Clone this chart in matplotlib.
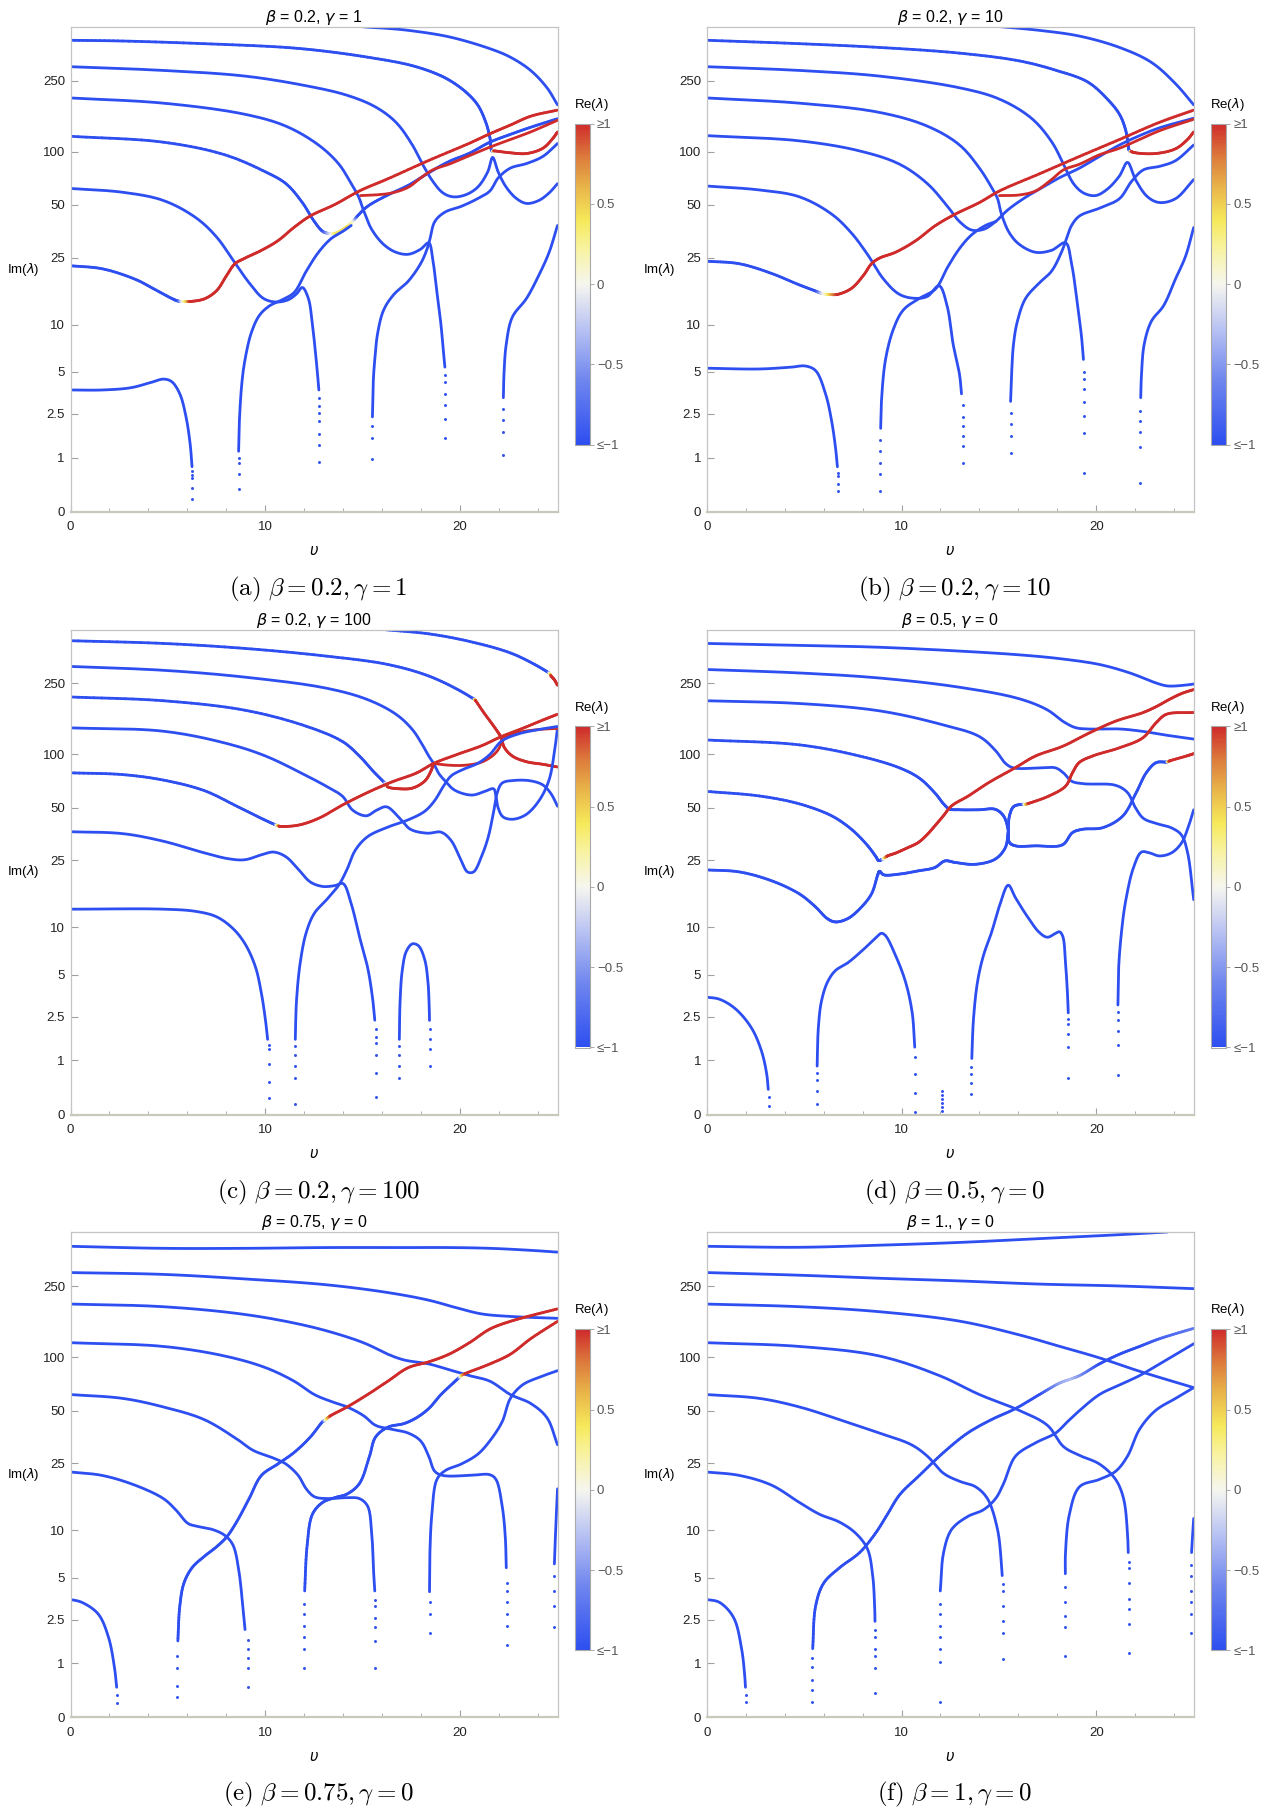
import numpy as np
import matplotlib
matplotlib.use("Agg")
import matplotlib.pyplot as plt
from matplotlib.collections import LineCollection
from matplotlib.colors import LinearSegmentedColormap, Normalize
import matplotlib.colorbar as mcolorbar

plt.rcParams['font.family'] = ['Liberation Sans', 'DejaVu Sans']

# ---------------- data: curves as (u, Im(lambda), Re(lambda)) ----------------
# panel (a) beta=0.2, gamma=1
a_c0 = [(14.6,505,-1),(15.25,497,-1),(16.3,489,-1),(17.34,477,-1),(19.43,439,-1),(21.53,377,-1),(22.58,338,-1),(23.62,285,-1),(24.46,228,-1),(25.0,183,-1)]
a_c1 = [(0,420,-1),(2.68,416,-1),(6.87,402,-1),(11.06,383,-1),(13.15,364,-1),(15.25,338,-1),(17.34,307,-1),(18.6,278,-1),(19.43,252,-1),(20.27,217,-1),(20.9,183,-1),(21.32,146,-1),(21.53,120,-1),(21.63,101,-1),(21.74,101,1),(22.58,98.5,1),(23.41,97.6,1),(24.25,104.5,1),(24.77,119,1),(25.0,129,1)]
a_c2 = [(0,299,-1),(4.77,285,-1),(8.96,265,-1),(12.1,234,-1),(14.2,207,-1),(15.66,178,-1),(16.71,146,-1),(17.55,109,-1),(18.07,85,-1),(18.6,68,-1),(19.12,58.5,-1),(19.64,55.6,-1),(20.27,57,-1),(20.9,63,-1),(21.42,77,-1),(21.67,92.8,-1),(21.95,77,-1),(22.37,63,-1),(22.9,54.3,-1),(23.41,51,-1),(24.04,53,-1),(24.57,58.5,-1),(25.0,66,-1)]
a_c3 = [(0,200,-1),(4.77,187,-1),(8.96,162,-1),(11.06,139,-1),(12.73,109,-1),(13.78,85,-1),(14.41,66,-1),(14.79,55.6,-1),(15.04,46.7,-1),(15.46,36.3,-1),(16.08,29.7,-1),(16.71,26.8,-1),(17.34,26.1,-1),(17.97,27.9,-1),(18.39,30.4,-1),(18.6,24.2,-1),(18.8,16,-1),(19.02,9.95,-1),(19.14,6.77,-1),(19.22,5.38,-1)]
a_c4 = [(0,122,-1),(4.77,113,-1),(7.92,96,-1),(10.0,77,-1),(11.06,66,-1),(11.9,51.6,-1),(12.52,40.2,-1),(12.94,35.4,-1),(13.25,34.4,-0.3),(13.6,34.5,0.4),(14.2,37.7,0.45),(14.5,40.5,0.1),(14.75,43.5,-1),(15.25,49.1,-1),(16.3,57,-1),(17.34,64.6,-1),(18.39,76,-1),(19.43,88,-1),(20.48,98,-1),(21.53,113,-1),(22.58,125,-1),(23.62,137,-1),(25.0,153,-1)]
a_red2 = [(14.89,56.5,1),(15.66,57,1),(16.5,58.5,1),(17.34,63,1),(17.97,71,1),(18.6,79,1),(19.43,85,1),(20.48,95,1),(21.53,106,1),(22.58,117,1),(23.62,129,1),(25.0,150,1)]
a_c5 = [(0,62,-1),(2.68,59,-1),(4.77,53,-1),(6.45,42.2,-1),(7.5,32.8,-1),(8.34,24.2,-1),(9.17,17.8,-1),(9.9,14.4,-1),(10.53,13.7,-1),(11.16,14.1,-1),(11.6,15.3,-1),(11.9,16.7,-1),(12.21,14.4,-1),(12.42,9.95,-1),(12.63,5.7,-1),(12.75,3.76,-1)]
a_r1 = [(8.63,1.17,-1),(8.67,2.21,-1),(8.8,4.25,-1),(8.96,6.04,-1),(9.28,8.9,-1),(9.7,11.4,-1),(10.22,13,-1),(10.85,14.1,-1),(11.48,15.6,-1),(12.1,20.8,-1),(12.73,26.8,-1),(13.36,32,-1),(13.99,35.4,-1),(14.41,38.2,-1)]
a_c6 = [(0,22.4,-1),(1.63,21.5,-1),(3.31,18.7,-1),(4.36,16.2,-1),(5.19,14.4,-1),(5.5,13.9,-1),(5.72,13.8,-0.1),(5.93,13.8,0.45),(6.14,13.8,1),(6.87,14.3,1),(7.5,16,1),(8.02,19.7,1),(8.44,23,1),(8.96,24.8,1),(9.8,27.5,1),(10.64,31.2,1),(11.48,37.3,1),(12.31,43.3,1),(13.57,50.3,1),(14.83,60,1),(16.29,70.3,1),(18.39,89.2,1),(20.48,111.5,1),(21.53,126,1),(22.58,141,1),(23.62,158,1),(25.0,171,1)]
a_r2 = [(15.5,2.37,-1),(15.54,4.25,-1),(15.62,6.04,-1),(15.77,8.9,-1),(16.08,12.3,-1),(16.6,15.2,-1),(17.34,18.2,-1),(17.97,23,-1),(18.28,27.5,-1),(18.43,31.2,-1),(18.7,40.2,-1),(19.22,45.5,-1),(20.06,49.1,-1),(20.9,54.3,-1),(21.53,60,-1),(21.95,71,-1),(22.58,80.8,-1),(23.41,85.7,-1),(24.25,94,-1),(25.0,111,-1)]
a_r3 = [(22.22,3.31,-1),(22.26,5.07,-1),(22.37,7.57,-1),(22.68,11.1,-1),(23.41,14.4,-1),(24.04,19.7,-1),(24.57,26.8,-1),(25.0,38.2,-1)]
a_c7 = [(0,3.76,-1),(1.63,3.76,-1),(3.1,3.9,-1),(4.15,4.25,-1),(4.77,4.47,-1),(5.19,4.3,-1),(5.61,3.53,-1),(5.93,2.37,-1),(6.14,1.39,-1),(6.24,0.78,-1)]
a_dots = [(6.26,[0.68,0.6,0.54,0.36,0.18]),(8.63,[0.33,0.62,0.87,1.0]),(12.78,[3.3,2.9,2.55,2.2,1.70,1.36,0.89]),(15.5,[0.97,1.58,1.99]),(19.22,[4.8,4.25,3.53,2.91,2.30,1.58]),(22.22,[1.07,1.77,2.24,2.72])]

# panel (b) beta=0.2, gamma=10
b_c0 = [(14.8,505,-1),(15.03,501,-1),(17.08,477,-1),(19.14,443,-1),(21.19,383,-1),(22.83,316,-1),(24.07,240,-1),(25.0,183,-1)]
b_c1 = [(0,420,-1),(4.76,402,-1),(8.87,383,-1),(12.98,356,-1),(16.06,322,-1),(17.95,285,-1),(19.55,246,-1),(20.57,197,-1),(21.19,162,-1),(21.5,133,-1),(21.64,109,-1),(21.7,101,-1),(21.8,100,1),(22.01,98.5,1),(23.04,97.6,1),(24.07,103.8,1),(24.68,117,1),(25.0,129,1)]
b_c2 = [(0,299,-1),(4.76,285,-1),(8.87,265,-1),(12.98,228,-1),(15.03,197,-1),(16.67,154,-1),(17.7,114,-1),(18.32,85,-1),(18.83,66,-1),(19.34,58.5,-1),(19.96,56.5,-1),(20.57,61.5,-1),(21.19,73,-1),(21.6,87,-1),(22.01,69.6,-1),(22.63,55.6,-1),(23.24,51.6,-1),(24.07,54.3,-1),(25.0,69.6,-1)]
b_c3 = [(0,200,-1),(4.76,187,-1),(8.87,166,-1),(11.33,139,-1),(12.98,109,-1),(14.0,80.8,-1),(14.62,63,-1),(14.93,54.3,-1),(15.13,44.4,-1),(15.54,34.6,-1),(16.06,29.7,-1),(16.88,26.8,-1),(17.7,27.5,-1),(18.42,30.4,-1),(18.73,23,-1),(19.04,13,-1),(19.24,8.45,-1),(19.34,6.04,-1)]
b_c4 = [(0,123,-1),(4.76,115,-1),(7.84,101,-1),(9.9,85,-1),(11.33,66,-1),(12.36,49.1,-1),(12.98,40.2,-1),(13.59,36,-1),(14.21,36.3,-1),(14.83,40.2,-1),(15.44,46.7,-1),(16.26,54.3,-1),(17.08,61.5,-1),(18.11,71.3,-1),(19.14,80.8,-1),(20.16,94,-1),(21.19,109,-1),(22.22,123,-1),(23.24,136,-1),(25.0,154,-1)]
b_red2 = [(15.03,56.5,1),(16.06,57,1),(16.88,60,1),(17.7,69.6,1),(18.32,79,1),(19.14,85,1),(20.16,96,1),(21.19,104.5,1),(22.22,117,1),(23.24,131,1),(25.0,152,1)]
b_c5 = [(0,64,-1),(2.71,60.8,-1),(4.76,55.6,-1),(6.41,44.4,-1),(7.43,34.6,-1),(8.25,26.1,-1),(9.08,18.7,-1),(9.9,15.2,-1),(10.72,14.4,-1),(11.33,14.8,-1),(11.93,17.1,-1),(12.34,13,-1),(12.65,7.57,-1),(12.98,4.79,-1),(13.08,3.53,-1)]
b_r1 = [(8.93,1.91,-1),(8.97,3.11,-1),(9.18,6.04,-1),(9.59,9.43,-1),(10.1,12.3,-1),(10.92,14.4,-1),(11.75,16.4,-1),(12.36,21.9,-1),(12.98,28.2,-1),(13.59,33.7,-1),(14.31,38.2,-1),(14.83,40.2,-1)]
b_c6 = [(0,23.8,-1),(1.68,23,-1),(3.33,20.2,-1),(4.76,17.3,-1),(5.6,15.9,-1),(5.9,15.4,-0.2),(6.3,15.2,0.5),(6.71,15.2,1),(7.43,16.5,1),(8.05,19.7,1),(8.46,23,1),(8.87,24.8,1),(9.69,26.8,1),(10.72,31.2,1),(11.75,38.2,1),(12.77,44.4,1),(14.0,51.6,1),(15.03,60,1),(17.08,75,1),(19.14,94,1),(21.19,117,1),(23.24,146,1),(25.0,171,1)]
b_r2 = [(15.6,3.11,-1),(15.65,4.79,-1),(15.75,7.57,-1),(15.95,10.5,-1),(16.37,14.4,-1),(17.08,17.8,-1),(17.7,20.8,-1),(18.21,26.8,-1),(18.48,32.3,-1),(18.73,38.2,-1),(19.14,43.3,-1),(20.16,47.9,-1),(21.19,54.3,-1),(21.81,68,-1),(22.42,79,-1),(23.24,82.6,-1),(24.07,89,-1),(25.0,109,-1)]
b_r3 = [(22.28,3.31,-1),(22.32,4.79,-1),(22.46,7.57,-1),(22.83,10.5,-1),(23.45,13,-1),(24.07,18.8,-1),(24.58,25.4,-1),(25.0,37.2,-1)]
b_c7 = [(0,5.29,-1),(2.71,5.23,-1),(4.35,5.38,-1),(5.07,5.47,-1),(5.59,5.1,-1),(6.1,3.53,-1),(6.41,2.21,-1),(6.61,1.28,-1),(6.71,0.78,-1)]
b_dots = [(6.76,[0.65,0.58,0.43,0.30]),(8.91,[0.31,0.62,0.87,1.17,1.51]),(13.14,[2.91,2.37,1.99,1.64,1.33,0.87]),(15.6,[1.12,1.64,2.07,2.54]),(19.38,[5.0,4.5,3.8,3.1,2.4,1.75,0.64]),(22.26,[0.45,1.30,1.77,2.21,2.63])]

# panel (c) beta=0.2, gamma=100
c_c0 = [(15.5,510,-1),(16.08,500,-1),(18.39,473,-1),(20.48,429,-1),(22.58,370,-1),(23.83,319,-1),(24.5,289,-1),(24.58,285,-0.1),(24.67,275,1),(24.84,262,1),(25.0,244,1)]
c_c1 = [(0,433,-1),(4.77,418,-1),(8.96,392,-1),(13.15,355,-1),(16.29,319,-1),(18.39,275,-1),(19.85,232,-1),(20.69,205,-1),(20.75,203,0.3),(20.8,200,1),(21.21,172,1),(21.63,149,1),(21.95,133,1),(22.12,124,1),(22.26,110,1),(22.68,98,1),(23.41,91,1),(24.25,88,1),(25.0,85,1)]
c_c2 = [(0,311,-1),(4.77,296,-1),(8.96,271,-1),(13.15,235,-1),(15.25,203,-1),(16.71,168,-1),(17.55,138,-1),(18.07,113,-1),(18.39,98,-1),(18.64,89,-1),(18.91,78,-1),(19.23,71,-1),(19.71,63,-1),(20.59,59,-1),(21.21,61.5,-1),(21.72,64,-1),(21.84,58,-1),(21.95,50,-1),(22.2,44.4,-1),(22.68,43,-1),(23.37,45.6,-1),(24.06,55,-1),(24.57,72,-1),(24.84,103,-1),(25.0,141,-1)]
c_c3 = [(0,210,-1),(4.77,200,-1),(8.96,177,-1),(12.1,144,-1),(13.97,118,-1),(14.83,98,-1),(15.56,80,-1),(16.08,70,-1),(16.18,68,0),(16.29,65.6,1),(16.92,64,1),(17.55,64.6,1),(18.18,70.7,1),(18.49,80,1),(18.64,89,1)]
c_arch = [(18.64,89,1),(19.43,87,1),(20.27,87,1),(21.11,90.6,1),(21.74,100,1),(22.03,110,1),(22.12,120,1)]
c_c4 = [(0,141,-1),(4.77,135,-1),(7.92,116,-1),(10.01,98,-1),(12.1,76,-1),(13.15,66,-1),(13.97,58,-1),(14.49,48.4,-1),(15.18,45,-1),(15.71,48.4,-1),(16.23,50.6,-1),(16.92,43.3,-1),(17.45,37.7,-1),(18.32,35.8,-1),(19.02,36.3,-1),(19.54,32.5,-1),(20.06,24.8,-1),(20.38,21.4,-1),(20.69,21.4,-1),(21.11,26.5,-1),(21.45,34.2,-1),(21.74,48.7,-1),(21.91,61,-1),(22.16,69,-1),(22.79,71.4,-1),(23.62,71,-1),(24.25,67.3,-1),(24.67,60,-1),(25.0,51,-1)]
c_c5 = [(0,78.8,-1),(2.68,77,-1),(4.77,71.7,-1),(6.87,62.5,-1),(8.54,51,-1),(9.8,43.5,-1),(10.47,40.2,-1),(10.6,39.7,0.2),(10.74,39.2,1),(11.69,39.8,1),(12.73,43.5,1),(13.99,52,1),(15.25,61,1),(16.5,70,1),(17.76,78.6,1),(18.64,89,1),(19.85,100,1),(21.11,112,1),(22.12,126,1),(23.2,140,1),(24.25,156,1),(25.0,168,1)]
c_red3 = [(22.12,124,1),(23.0,133,1),(24.04,138,1),(25.0,140,1)]
c_c6 = [(0,36.5,-1),(2.68,35.6,-1),(4.77,32.2,-1),(6.87,27.6,-1),(8.13,25.5,-1),(8.96,25.2,-1),(9.8,26.9,-1),(10.43,27.9,-1),(11.06,26.2,-1),(11.69,22.2,-1),(12.31,18.7,-1),(12.94,17.6,-1),(13.57,17.8,-1),(13.99,18.3,-1),(14.41,13.9,-1),(14.83,8.8,-1),(15.25,5.6,-1),(15.5,3.5,-1),(15.62,2.35,-1)]
c_rise = [(11.54,1.62,-1),(11.6,3.27,-1),(11.79,5.97,-1),(12.1,9.3,-1),(12.52,12.2,-1),(13.15,14.7,-1),(13.78,18.0,-1),(14.2,22.2,-1),(14.62,28.6,-1),(15.25,34.2,-1),(16.29,38.8,-1),(17.34,42.7,-1),(18.18,47.7,-1),(18.7,55,-1),(19.12,65.6,-1),(19.54,75.7,-1),(20.17,82.5,-1),(20.9,89,-1),(21.53,100,-1),(22.12,118.6,-1),(23.0,130.5,-1),(24.04,138,-1),(25.0,143.5,-1)]
c_c7 = [(0,12.9,-1),(4.77,12.9,-1),(6.45,12.5,-1),(7.5,11.6,-1),(8.34,9.84,-1),(8.96,7.91,-1),(9.49,5.65,-1),(9.8,3.72,-1),(10.01,2.34,-1),(10.12,1.62,-1)]
c_bump = [(16.88,1.62,-1),(16.92,3.27,-1),(17.03,5.33,-1),(17.24,7.1,-1),(17.55,7.91,-1),(17.86,7.7,-1),(18.18,6.3,-1),(18.35,4.46,-1),(18.41,3.07,-1),(18.43,2.34,-1)]
c_dots = [(10.2,[1.45,1.31,0.9,0.52,0.23]),(11.52,[0.15,0.6,0.86,1.15,1.4]),(15.67,[2.0,1.7,1.49,1.15,0.71,0.25]),(16.86,[0.6,0.87,1.15,1.4]),(18.45,[2.0,1.62,1.31,0.86])]

# panel (d) beta=0.5, gamma=0
d_c1 = [(0,418,-1),(4.76,408,-1),(8.87,398,-1),(12.98,379,-1),(16.06,361,-1),(18.11,344,-1),(20.16,319,-1),(21.6,289,-1),(22.42,268,-1),(23.04,252,-1),(23.65,242,-1),(24.48,244,-1),(25.0,248,-1)]
d_c2 = [(0,299,-1),(4.76,286,-1),(8.87,268,-1),(12.98,238,-1),(16.06,205,-1),(17.49,177.7,-1),(18.32,152.6,-1),(18.93,141.4,-1),(19.55,139,-1),(21.19,139,-1),(22.42,134.6,-1),(23.65,128,-1),(25.0,122,-1)]
d_c3 = [(0,200,-1),(4.76,193,-1),(8.87,175.6,-1),(11.95,148.4,-1),(14.0,126,-1),(14.83,105,-1),(15.34,89,-1),(15.75,84,-1),(17.08,84,-1),(17.91,84,-1),(18.32,78.6,-1),(18.73,70.7,-1),(19.34,68.4,-1),(20.99,67,-1),(21.6,61,-1),(22.01,50,-1),(22.42,43.5,-1),(23.04,40.8,-1),(23.86,38.4,-1),(24.37,35,-1),(24.68,27.9,-1),(25.0,14.7,-1)]
d_c4 = [(0,120.6,-1),(4.76,113.2,-1),(7.84,98,-1),(9.9,84,-1),(10.92,73.5,-1),(11.75,60,-1),(12.16,52.6,-1),(12.46,49.2,-1),(12.98,48.7,-1),(14.0,48.7,-1),(14.81,49,-1),(15.24,44.9,-1),(15.47,37.7,-1),(15.54,31.7,-1),(15.85,30.3,-1),(16.88,30.3,-1),(18.26,30.7,-1),(18.78,36.1,-1),(19.29,37.7,-1),(20.33,38.5,-1),(21.36,44.9,-1),(22.05,61,-1),(22.57,79,-1),(23.08,90,-1),(23.6,90.6,-1),(23.68,91,0.45),(23.77,92,1),(24.63,98,1),(25.0,101,1)]
d_c5 = [(0,61.9,-1),(2.71,58.3,-1),(4.76,52.6,-1),(6.41,45,-1),(7.43,37.7,-1),(8.25,30.5,-1),(8.67,26.4,-1),(8.83,24.9,-1),(8.97,25.2,-1),(9.12,25.8,0.4),(9.28,26.5,1),(9.69,27.5,1),(10.3,29.5,1),(10.85,31.6,1),(11.3,35,1),(11.71,39.4,1),(12.15,45,1),(12.57,51.2,1),(13.43,58.3,1),(14.47,69.3,1),(15.85,84.3,1),(16.88,98,1),(18.26,111,1),(19.64,132,1),(21.01,154,1),(22.39,171.6,1),(23.1,186,1),(23.77,204,1),(24.4,220,1),(25.0,231,1)]
d_c6 = [(0,22,-1),(1.68,21.4,-1),(3.33,19,-1),(4.76,15.9,-1),(5.59,13.3,-1),(6.2,11.3,-1),(6.61,10.8,-1),(7.23,11.3,-1),(7.84,12.9,-1),(8.46,15.9,-1),(8.77,20.4,-1),(8.87,21.6,-1),(9.08,20.6,-1),(9.9,20.8,-1),(10.85,21.7,-1),(11.71,22.7,-1),(12.23,24.8,-1),(12.75,24.3,-1),(13.78,23.7,-1),(14.81,25.4,-1),(15.33,29.6,-1),(15.47,36.1,-1),(15.54,44.9,-1),(15.76,50.8,-1),(16.19,52.3,-1),(16.36,52.3,0.4),(16.54,53,1),(17.57,58.3,1),(18.43,66.4,1),(18.78,79,1),(19.12,90,1),(19.81,98,1),(21.19,109,1),(22.39,124,1),(23.08,151,1),(23.6,168,1),(25.0,172,1)]
d_e = [(5.67,0.86,-1),(5.73,2.03,-1),(5.89,3.27,-1),(6.2,4.46,-1),(6.61,5.33,-1),(7.23,5.97,-1),(8.05,7.3,-1),(8.67,8.6,-1),(8.97,9.2,-1),(9.18,8.9,-1),(9.69,6.7,-1),(10.21,4.46,-1),(10.55,2.68,-1),(10.68,1.37,-1)]
d_c7 = [(0,3.5,-1),(0.66,3.38,-1),(1.48,2.87,-1),(2.3,2.03,-1),(2.81,1.26,-1),(3.08,0.68,-1),(3.16,0.38,-1)]
d_f = [(13.61,1.05,-1),(13.69,2.34,-1),(13.9,4.46,-1),(14.21,6.7,-1),(14.62,9.3,-1),(15.03,13.5,-1),(15.48,17.9,-1),(15.85,15.1,-1),(16.47,11.6,-1),(17.08,9.3,-1),(17.49,8.7,-1),(17.91,9.2,-1),(18.11,9.4,-1),(18.28,8.8,-1),(18.42,5.97,-1),(18.52,3.72,-1),(18.56,2.68,-1)]
d_g = [(21.11,3.07,-1),(21.15,5.65,-1),(21.29,9.3,-1),(21.5,14.3,-1),(21.91,22.7,-1),(22.32,27.9,-1),(22.73,27.6,-1),(23.24,26.5,-1),(23.86,27.6,-1),(24.37,31.4,-1),(24.72,38.8,-1),(25.0,48.7,-1)]
d_dots = [(3.2,[0.25,0.11]),(5.65,[0.15,0.35,0.56,0.7]),(10.7,[1.1,0.68,0.32,0.03]),(12.09,[0.04,0.1,0.16,0.22,0.28,0.35]),(13.59,[0.30,0.49,0.68,0.85]),(18.56,[2.4,2.18,1.81,1.37,0.6]),(21.09,[0.66,1.45,1.91,2.34,2.7])]

# panel (e) beta=0.75, gamma=0
e_c1 = [(0,417.6,-1),(4.77,407,-1),(8.96,407,-1),(13.15,411,-1),(17.34,411,-1),(19.43,411,-1),(21.53,407,-1),(23.62,396.6,-1),(25.0,387.6,-1)]
e_c2 = [(0,298,-1),(4.77,291,-1),(8.96,274.5,-1),(13.15,254.6,-1),(16.29,230.4,-1),(18.39,208.8,-1),(19.85,189,-1),(21.11,175,-1),(22.58,169.4,-1),(25.0,165.3,-1)]
e_c3 = [(0,198.7,-1),(4.77,192,-1),(8.96,173.7,-1),(12.1,150.4,-1),(14.2,130,-1),(15.25,118,-1),(16.29,104,-1),(17.13,96.5,-1),(18.39,91.7,-1),(19.43,85.1,-1),(20.48,78.8,-1),(21.53,73.3,-1),(22.58,61.6,-1),(23.62,54.9,-1),(24.46,45.5,-1),(25.0,31.9,-1)]
e_c4 = [(0,120.7,-1),(4.77,115,-1),(7.92,101.6,-1),(10.01,87.4,-1),(11.48,73.3,-1),(12.52,61.6,-1),(13.36,56.4,-1),(14.2,52.4,-1),(15.04,46.8,-1),(15.66,41.2,-1),(16.5,39.1,-1),(17.34,37.2,-1),(17.97,33.6,-1),(18.39,27.4,-1),(18.7,22.4,-1),(19.12,21.2,-1),(20.48,21.2,-1),(21.53,21.4,-1),(21.84,20.1,-1),(22.16,14,-1),(22.32,9.1,-1),(22.37,5.8,-1)]
e_c5 = [(0,61.6,-1),(2.68,58.6,-1),(4.77,52.4,-1),(6.87,44.4,-1),(8.54,34.4,-1),(9.38,29.6,-1),(10.43,26.7,-1),(11.06,24.7,-1),(11.69,21.2,-1),(12.1,17.7,-1),(12.52,15.9,-1),(13.15,15.5,-1),(14.2,15.7,-1),(14.83,15.5,-1),(15.25,14,-1),(15.46,9.6,-1),(15.56,5.45,-1),(15.62,4.05,-1)]
e_c6 = [(0,22.2,-1),(1.63,21.2,-1),(3.31,18.6,-1),(4.77,15.5,-1),(5.4,13.3,-1),(6.03,11,-1),(6.45,10.6,-1),(7.29,10.1,-1),(7.92,9.3,-1),(8.34,8.1,-1),(8.65,5.45,-1),(8.86,2.95,-1),(8.96,2.08,-1)]
e_c7 = [(0,3.53,-1),(0.59,3.36,-1),(1.42,2.76,-1),(1.95,1.79,-1),(2.26,0.88,-1),(2.37,0.47,-1)]
e_ra = [(5.51,1.66,-1),(5.61,3.15,-1),(5.82,4.57,-1),(6.24,5.8,-1),(6.87,6.87,-1),(7.5,7.9,-1),(8.02,9.1,-1),(8.54,11.3,-1),(9.17,15.5,-1),(9.8,21.2,-1),(10.64,24.7,-1),(11.48,28.8,-1),(12.31,35.3,-1),(12.94,43.2,-1),(13.05,44,-0.3),(13.15,45,0.4),(13.36,46.8,1),(14.2,52.4,1),(15.25,61.6,1),(16.29,73.3,1),(17.34,87.4,1),(18.39,94.2,1),(19.43,104,1),(20.48,120.7,1),(21.53,144,1),(22.58,159,1),(23.62,171,1),(25.0,186.7,1)]
e_rb = [(12.02,4.05,-1),(12.15,8.1,-1),(12.42,12.5,-1),(12.94,14.7,-1),(13.57,15.7,-1),(14.2,16.5,-1),(14.83,19,-1),(15.35,27.4,-1),(15.66,35.3,-1),(16.29,40.2,-1),(17.13,42.2,-1),(17.76,45.5,-1),(18.39,51.3,-1),(19.02,61.6,-1),(19.64,71.5,-1),(19.9,76,-1),(20.06,78.8,0.4),(20.27,81,1),(21.53,91.7,1),(22.58,104,1),(23.62,127,1),(25.0,159,1)]
e_rc = [(18.43,4.0,-1),(18.45,7.26,-1),(18.55,12.5,-1),(18.81,20.1,-1),(19.23,22.6,-1),(20.06,24.7,-1),(20.9,28.1,-1),(21.53,33.6,-1),(22.16,43.2,-1),(22.58,58.6,-1),(23.2,69.8,-1),(24.04,77,-1),(25.0,84,-1)]
e_rd = [(24.84,6.14,-1),(24.9,9.6,-1),(24.96,14,-1),(25.0,17.7,-1)]
e_dots = [(2.4,[0.33,0.2]),(5.47,[0.3,0.5,0.88,1.2]),(9.1,[1.7,1.41,1.13,0.88,0.47]),(12.0,[0.88,1.41,1.79,2.24,2.76,3.3]),(15.65,[3.5,3.15,2.59,2.17,1.66,0.88]),(18.43,[1.94,2.76,3.36]),(22.4,[4.6,4.05,3.36,2.76,2.24,1.54]),(24.82,[2.17,3.15,4.05,5.15])]

# panel (f) beta=1, gamma=0
f_c1 = [(0,417.6,-1),(4.76,412.5,-1),(8.87,423.7,-1),(12.98,439,-1),(17.08,461,-1),(21.19,485,-1),(23.66,502,-1)]
f_c2 = [(0,298,-1),(4.76,288,-1),(8.87,277,-1),(12.98,267.6,-1),(17.08,257,-1),(21.19,250.8,-1),(25.0,242.3,-1)]
f_c3 = [(0,198.7,-1),(4.76,192,-1),(8.87,180,-1),(12.98,159.4,-1),(16.06,133.4,-1),(18.11,115.2,-1),(20.16,99.2,-1),(22.22,83.4,-1),(25.0,67.4,-1)]
f_c4 = [(0,120.7,-1),(4.76,115,-1),(8.87,101.6,-1),(11.95,78.8,-1),(14.0,61.6,-1),(16.06,50,-1),(17.49,41.2,-1),(18.32,31.1,-1),(19.14,27.7,-1),(20.16,24.7,-1),(20.99,20.1,-1),(21.4,15.5,-1),(21.6,9.6,-1),(21.64,7.26,-1)]
f_c5 = [(0,61.6,-1),(2.71,58.6,-1),(4.76,52.4,-1),(6.82,44.4,-1),(8.87,37.2,-1),(10.51,31.9,-1),(11.33,27.4,-1),(12.16,21.8,-1),(12.98,19.6,-1),(13.8,18.2,-1),(14.41,15.5,-1),(14.93,10.1,-1),(15.13,6.14,-1),(15.17,5.15,-1)]
f_c6 = [(0,22.2,-1),(1.68,21.2,-1),(3.33,18.6,-1),(4.76,14.7,-1),(5.79,12.5,-1),(6.82,11.2,-1),(7.64,9.6,-1),(8.25,7.66,-1),(8.52,5.15,-1),(8.62,3.15,-1),(8.64,2.42,-1)]
f_c7 = [(0,3.53,-1),(0.66,3.36,-1),(1.38,2.59,-1),(1.79,1.41,-1),(1.95,0.71,-1),(1.99,0.47,-1)]
f_a = [(5.44,1.41,-1),(5.59,3.15,-1),(6.0,4.57,-1),(6.82,5.8,-1),(7.85,7.26,-1),(8.67,9.6,-1),(9.28,12.5,-1),(9.9,16.3,-1),(10.92,21.2,-1),(12.16,28.8,-1),(13.39,37.2,-1),(14.62,44.4,-1),(15.85,51.3,-1),(17.08,61.6,-1),(18.11,71.5,-0.45),(18.7,75.5,-0.3),(19.14,78.8,-0.5),(20.16,91.7,-1),(21.19,104,-1),(22.22,115,-1),(23.24,127,-0.85),(25.0,145.3,-0.7)]
f_b = [(11.99,4.05,-1),(12.16,7.26,-1),(12.57,10.1,-1),(13.39,12.1,-1),(14.21,13.3,-1),(14.83,15.5,-1),(15.24,19,-1),(15.85,27.4,-1),(16.88,32.7,-1),(17.91,37.2,-1),(18.52,43.2,-1),(19.14,50,-1),(20.16,61.6,-1),(21.19,69.8,-1),(22.22,78.8,-1),(23.24,91.7,-1),(25.0,119,-1)]
f_c = [(18.41,5.3,-1),(18.42,7.26,-1),(18.62,12.5,-1),(19.14,18.2,-1),(20.16,20.1,-1),(20.99,22.4,-1),(21.6,27.4,-1),(22.22,39.1,-1),(23.04,50,-1),(24.07,58.6,-1),(25.0,67.4,-1)]
f_d = [(24.89,7.26,-1),(24.95,9.6,-1),(25.0,11.8,-1)]
f_dots = [(2.0,[0.33,0.22]),(5.42,[0.21,0.41,0.62,0.9,1.15]),(8.66,[2.05,1.79,1.41,1.18,0.88,0.36]),(11.97,[0.21,1.03,1.41,1.79,2.24,2.76,3.3]),(15.2,[4.5,4.05,3.15,2.42,1.94,1.1]),(18.4,[1.2,2.17,2.67,3.36,4.3]),(21.66,[6.3,5.8,4.57,3.53,3.02,2.32,1.29]),(24.85,[1.94,2.76,3.36,4.05,5.15,6.0])]

titles = [r'$\beta$ = 0.2, $\gamma$ = 1', r'$\beta$ = 0.2, $\gamma$ = 10',
          r'$\beta$ = 0.2, $\gamma$ = 100', r'$\beta$ = 0.5, $\gamma$ = 0',
          r'$\beta$ = 0.75, $\gamma$ = 0', r'$\beta$ = 1., $\gamma$ = 0']
captions = [r'$\mathrm{(a)}\ \beta = 0.2, \gamma = 1$', r'$\mathrm{(b)}\ \beta = 0.2, \gamma = 10$',
            r'$\mathrm{(c)}\ \beta = 0.2, \gamma = 100$', r'$\mathrm{(d)}\ \beta = 0.5, \gamma = 0$',
            r'$\mathrm{(e)}\ \beta = 0.75, \gamma = 0$', r'$\mathrm{(f)}\ \beta = 1, \gamma = 0$']
ytick_vals = [0, 1, 2.5, 5, 10, 25, 50, 100, 250]
ytick_labels = ['0', '1', '2.5', '5', '10', '25', '50', '100', '250']
xtick_vals = [0, 10, 20]
cbar_ticks = [-1, -0.5, 0, 0.5, 1]
cbar_labels = ['\u2264\u22121', '\u22120.5', '0', '0.5', '\u22651']

panels = [
    ([a_c0, a_c1, a_c2, a_c3, a_c4, a_red2, a_c5, a_r1, a_c6, a_r2, a_r3, a_c7], a_dots),
    ([b_c0, b_c1, b_c2, b_c3, b_c4, b_red2, b_c5, b_r1, b_c6, b_r2, b_r3, b_c7], b_dots),
    ([c_c0, c_c1, c_c2, c_c3, c_arch, c_c4, c_c5, c_red3, c_c6, c_rise, c_c7, c_bump], c_dots),
    ([d_c1, d_c2, d_c3, d_c4, d_c5, d_c6, d_e, d_c7, d_f, d_g], d_dots),
    ([e_c1, e_c2, e_c3, e_c4, e_c5, e_c6, e_c7, e_ra, e_rb, e_rc, e_rd], e_dots),
    ([f_c1, f_c2, f_c3, f_c4, f_c5, f_c6, f_c7, f_a, f_b, f_c, f_d], f_dots),
]

# ---------------- styling ----------------
cmap = LinearSegmentedColormap.from_list('re', [
    (0.0, '#2d4ef0'), (0.2, '#6f86ee'), (0.36, '#b8c2f3'), (0.5, '#f6f6ef'),
    (0.62, '#f8f29a'), (0.7, '#f6e95a'), (0.8, '#e9b64a'), (0.9, '#dc7a3c'), (1.0, '#cf2b2b')])
norm = Normalize(-1, 1)

# display-proportional units used only for the smooth drawing of each curve
SX, SY = 19.5, 180.0


def fwd(y):
    return np.log10(1 + np.clip(y, 0, None))


def inv(t):
    return 10 ** t - 1


def smooth_path(pts, m=12):
    """Centripetal Catmull-Rom drawing path through the read points (in scaled display space)."""
    P = np.array([(u * SX, np.log10(1 + y) * SY) for u, y, _ in pts])
    R = np.array([r for _, _, r in pts], dtype=float)
    n = len(P)
    if n < 3:
        return P, R
    Q = np.vstack([2 * P[0] - P[1], P, 2 * P[-1] - P[-2]])
    out, rv = [P[0]], [R[0]]
    for i in range(1, n):
        p0, p1, p2, p3 = Q[i - 1], Q[i], Q[i + 1], Q[i + 2]
        t0 = 0.0
        t1 = t0 + max(np.linalg.norm(p1 - p0), 1e-6) ** 0.5
        t2 = t1 + max(np.linalg.norm(p2 - p1), 1e-6) ** 0.5
        t3 = t2 + max(np.linalg.norm(p3 - p2), 1e-6) ** 0.5
        for k in range(1, m + 1):
            t = t1 + (t2 - t1) * k / m
            A1 = (t1 - t) / (t1 - t0) * p0 + (t - t0) / (t1 - t0) * p1
            A2 = (t2 - t) / (t2 - t1) * p1 + (t - t1) / (t2 - t1) * p2
            A3 = (t3 - t) / (t3 - t2) * p2 + (t - t2) / (t3 - t2) * p3
            B1 = (t2 - t) / (t2 - t0) * A1 + (t - t0) / (t2 - t0) * A2
            B2 = (t3 - t) / (t3 - t1) * A2 + (t - t1) / (t3 - t1) * A3
            C = (t2 - t) / (t2 - t1) * B1 + (t - t1) / (t2 - t1) * B2
            out.append(C)
            rv.append(R[i - 1] + (R[i] - R[i - 1]) * k / m)
    return np.array(out), np.array(rv)


def draw_curve(ax, pts, lw=2.0):
    D, rv = smooth_path(pts)
    u = D[:, 0] / SX
    y = inv(np.clip(D[:, 1], 0, None) / SY)
    if np.all(rv == rv[0]):
        ax.plot(u, y, color=cmap(norm(rv[0])), lw=lw, solid_capstyle='round',
                solid_joinstyle='round', zorder=2)
        return
    segs = [[(u[i], y[i]), (u[i + 1], y[i + 1])] for i in range(len(u) - 1)]
    vals = (rv[:-1] + rv[1:]) / 2
    lc = LineCollection(segs, cmap=cmap, norm=norm, linewidths=lw,
                        capstyle='round', joinstyle='round', zorder=2)
    lc.set_array(vals)
    ax.add_collection(lc)


W, H = 1267, 1811
AX_W, AX_H = 487, 485
col_left = [70.5, 706.7]
row_top = [26.7, 629.5, 1232.3]

fig = plt.figure(figsize=(W / 100, H / 100), dpi=100)
fig.patch.set_facecolor('white')

for idx, (curves, dots) in enumerate(panels):
    r, c = divmod(idx, 2)
    L, T = col_left[c], row_top[r]
    ax = fig.add_axes([L / W, 1 - (T + AX_H) / H, AX_W / W, AX_H / H])
    ax.set_yscale('function', functions=(fwd, inv))
    ax.set_xlim(0, 25)
    ax.set_ylim(0, 500)
    for pts in curves:
        draw_curve(ax, pts)
    blue = cmap(0.0)
    for u, ys in dots:
        ax.scatter([u] * len(ys), ys, s=4.5, color=blue, linewidths=0, zorder=3)

    ax.set_yticks(ytick_vals)
    ax.set_yticklabels(ytick_labels)
    ax.set_xticks(xtick_vals)
    ax.set_xticklabels([str(v) for v in xtick_vals])
    ax.set_xticks([v for v in range(2, 25, 2) if v % 10], minor=True)
    ax.tick_params(axis='both', which='major', direction='in', length=5, width=0.8,
                   color='#a0a0a0', labelsize=9.5, labelcolor='#222222')
    ax.tick_params(axis='x', which='minor', direction='in', length=3, width=0.6, color='#a0a0a0')
    ax.tick_params(axis='y', which='minor', left=False)
    ax.tick_params(axis='x', pad=7)
    ax.tick_params(axis='y', pad=4)
    for side, sp in ax.spines.items():
        sp.set_color('#c4c4c4')
        sp.set_linewidth(0.9)
    ax.spines['bottom'].set_color('#c9c9bb')
    ax.spines['bottom'].set_linewidth(1.6)

    ax.set_title(titles[idx], fontsize=11.5, pad=3.5)
    ax.text(-0.097, 0.5, r'Im($\lambda$)', transform=ax.transAxes, ha='center', va='center', fontsize=9.5)
    ax.text(0.5, -0.082, r'$\upsilon$', transform=ax.transAxes, ha='center', va='center', fontsize=10.5)

    # colorbar
    cb_left = L + AX_W + 17.5
    cb_top = T + 97
    cax = fig.add_axes([cb_left / W, 1 - (cb_top + 321) / H, 15 / W, 321 / H])
    cb = mcolorbar.ColorbarBase(cax, cmap=cmap, norm=norm, orientation='vertical', ticks=cbar_ticks)
    cb.set_ticklabels(cbar_labels)
    cb.outline.set_edgecolor('#a8a8a8')
    cb.outline.set_linewidth(0.8)
    cax.tick_params(labelsize=9.5, colors='#9a9a9a', labelcolor='#555555', length=3, width=0.6, pad=2)
    fig.text((cb_left - 1) / W, 1 - (T + 77.5) / H, r'Re($\lambda$)', ha='left', va='center', fontsize=9.5)

    # caption
    fig.text((L + 248) / W, 1 - (T + 562.5) / H, captions[idx], ha='center', va='center',
             fontsize=18, math_fontfamily='cm')

fig.savefig('out.png', dpi=100, facecolor='white')
